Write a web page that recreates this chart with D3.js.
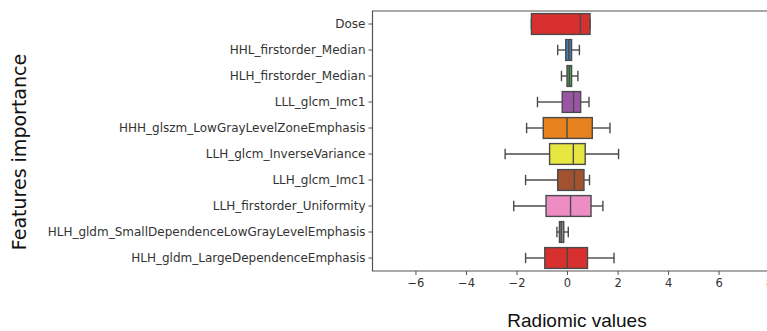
<!DOCTYPE html>
<html><head><meta charset="utf-8">
<script src="https://cdn.jsdelivr.net/npm/d3@7"></script>
<style>body{margin:0;background:#fff}svg{display:block}</style>
</head><body>
<svg id="c" width="767" height="331"></svg>
<script>
const features = ["Dose","HHL_firstorder_Median","HLH_firstorder_Median","LLL_glcm_Imc1",
  "HHH_glszm_LowGrayLevelZoneEmphasis","LLH_glcm_InverseVariance","LLH_glcm_Imc1",
  "LLH_firstorder_Uniformity","HLH_gldm_SmallDependenceLowGrayLevelEmphasis","HLH_gldm_LargeDependenceEmphasis"];
const whiskerLow  = [-1.41,-0.37,-0.22,-1.17,-1.60,-2.45,-1.64,-2.11,-0.40,-1.64];
const q1          = [-1.41,-0.05, 0.00,-0.19,-0.94,-0.69,-0.37,-0.83,-0.30,-0.88];
const median      = [ 0.53, 0.07, 0.09, 0.26, 0.00, 0.25, 0.29, 0.14,-0.23, 0.01];
const q3          = [ 0.91, 0.18, 0.18, 0.54, 1.00, 0.72, 0.67, 0.95,-0.13, 0.81];
const whiskerHigh = [ 0.91, 0.49, 0.43, 0.87, 1.70, 2.04, 0.89, 1.42, 0.05, 1.86];
const boxColors = ["#d8302f","#3f7db5","#52a64d","#9a55a5","#e8821e","#e8e640","#a0532e","#ee8dc3","#8a8a8a","#d8302f"];
const xTicks = [-6,-4,-2,0,2,4,6,8];

const svg = d3.select("#c");
const L = 372.5, T = 11, B = 271, R = 781;
const x = d3.scaleLinear().domain([-7.7, 8.47]).range([L, R]);
const y = d3.scaleBand().domain(features).range([T, B]);
const lineCol = "#4a4a4a";

const data = features.map((f,i)=>({f,lo:whiskerLow[i],q1:q1[i],md:median[i],q3:q3[i],hi:whiskerHigh[i],c:boxColors[i]}));
const bw = y.bandwidth()*0.8;
const g = svg.append("g");
data.forEach(d=>{
  const cy = y(d.f)+y.bandwidth()/2;
  const gg = g.append("g");
  gg.append("line").attr("x1",x(d.lo)).attr("x2",x(d.q1)).attr("y1",cy).attr("y2",cy).attr("stroke",lineCol).attr("stroke-width",1.4);
  gg.append("line").attr("x1",x(d.q3)).attr("x2",x(d.hi)).attr("y1",cy).attr("y2",cy).attr("stroke",lineCol).attr("stroke-width",1.4);
  [d.lo,d.hi].forEach(v=>gg.append("line").attr("x1",x(v)).attr("x2",x(v)).attr("y1",cy-bw/4).attr("y2",cy+bw/4).attr("stroke",lineCol).attr("stroke-width",1.4));
  gg.append("rect").attr("x",x(d.q1)).attr("width",Math.max(x(d.q3)-x(d.q1),0.5)).attr("y",cy-bw/2).attr("height",bw)
    .attr("fill",d.c).attr("stroke",lineCol).attr("stroke-width",1.4);
  gg.append("line").attr("x1",x(d.md)).attr("x2",x(d.md)).attr("y1",cy-bw/2).attr("y2",cy+bw/2).attr("stroke",lineCol).attr("stroke-width",1.4);
});

// axes
const xa = svg.append("g").attr("transform",`translate(0,${B})`)
  .call(d3.axisBottom(x).tickValues(xTicks).tickSize(4).tickPadding(4).tickFormat(d=>d<0?"\u2212"+Math.abs(d):d));
const ya = svg.append("g").attr("transform",`translate(${L},0)`)
  .call(d3.axisLeft(y).tickSize(4).tickPadding(3));
[xa,ya].forEach(a=>{
  a.select(".domain").remove();
  a.selectAll("line").attr("stroke","#555").attr("stroke-width",1);
  a.selectAll("text").attr("fill","#333").style("font-family","DejaVu Sans");
});
xa.selectAll("text").style("font-size","11.5px");
ya.selectAll("text").style("font-size","12px");
// spines
svg.append("path").attr("d",`M${R},${T}H${L}V${B}H${R}`).attr("fill","none").attr("stroke","#555").attr("stroke-width",1.2);

svg.append("text").attr("x",577).attr("y",327).attr("text-anchor","middle")
  .style("font-family","Liberation Sans, Arial").style("font-size","19px").attr("fill","#111").text("Radiomic values");
svg.append("text").attr("transform","translate(26,152) rotate(-90)").attr("text-anchor","middle")
  .style("font-family","DejaVu Sans").style("font-size","19px").attr("fill","#111").text("Features importance");
</script>
</body></html>
